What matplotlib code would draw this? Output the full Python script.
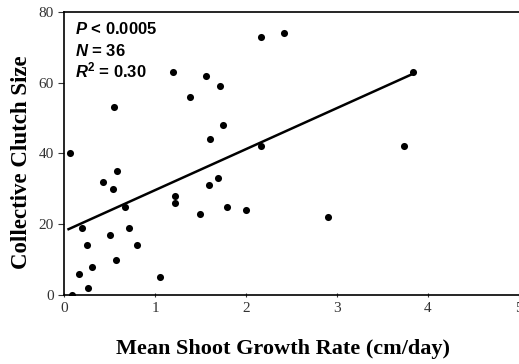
import matplotlib.pyplot as plt

plt.rcParams["mathtext.fontset"] = "custom"
plt.rcParams["mathtext.bf"] = "Liberation Sans:bold"
plt.rcParams["mathtext.it"] = "Liberation Sans:italic"
plt.rcParams["mathtext.bfit"] = "Liberation Sans:bold:italic"
plt.rcParams["mathtext.rm"] = "Liberation Sans"

# growth rate (cm/day) vs collective clutch size
growth = [0.07, 0.09, 0.16, 0.20, 0.25, 0.26, 0.31, 0.43, 0.51, 0.54,
          0.55, 0.58, 0.57, 0.67, 0.71, 0.80, 1.06, 1.20, 1.22, 1.22,
          1.38, 1.49, 1.56, 1.60, 1.59, 1.69, 1.71, 1.75, 1.79, 2.00,
          2.17, 2.17, 2.42, 2.90, 3.74, 3.84]
clutch = [40, 0, 6, 19, 14, 2, 8, 32, 17, 30,
          53, 35, 10, 25, 19, 14, 5, 63, 28, 26,
          56, 23, 62, 44, 31, 33, 59, 48, 25, 24,
          73, 42, 74, 22, 42, 63]

fit_x = [0.05, 3.85]
fit_y = [18.6, 62.7]

stats = ["$\\mathbfit{P}$ < 0.0005", "$\\mathbfit{N}$ = 36",
         "$\\mathbfit{R}^{\\mathbf{2}}$ = 0.30"]

fig = plt.figure(figsize=(5.19, 3.64), dpi=100)
ax = fig.add_axes([0.1233, 0.1896, 0.8767, 0.7775])

ax.scatter(growth, clutch, s=26, color="black", zorder=3, linewidths=0)
ax.plot(fit_x, fit_y, color="black", lw=1.8)

ax.set_xlim(0, 5)
ax.set_ylim(0, 80)
ax.set_xticks([0, 1, 2, 3, 4, 5])
ax.set_yticks([0, 20, 40, 60, 80])
ax.spines["right"].set_visible(False)
for s in ["left", "bottom", "top"]:
    ax.spines[s].set_linewidth(1.2)
ax.tick_params(axis="y", direction="out", length=4, labelsize=11, colors="#333333")
ax.tick_params(axis="x", direction="inout", length=3, labelsize=11, colors="#333333")
for lab in ax.get_xticklabels() + ax.get_yticklabels():
    lab.set_family("Liberation Serif")

ax.set_xlabel("Mean Shoot Growth Rate (cm/day)", family="Liberation Serif",
              fontsize=16, fontweight="bold")
ax.set_ylabel("Collective Clutch Size", family="Liberation Serif",
              fontsize=16.5, fontweight="bold")
ax.xaxis.set_label_coords(0.482, -0.155)
ax.yaxis.set_label_coords(-0.071, 0.47)

for y, t in zip([0.922, 0.845, 0.770], stats):
    ax.text(0.024, y, t, transform=ax.transAxes, va="baseline",
            family="Liberation Sans", fontweight="bold", fontsize=12)

fig.savefig("out.png", dpi=100)
